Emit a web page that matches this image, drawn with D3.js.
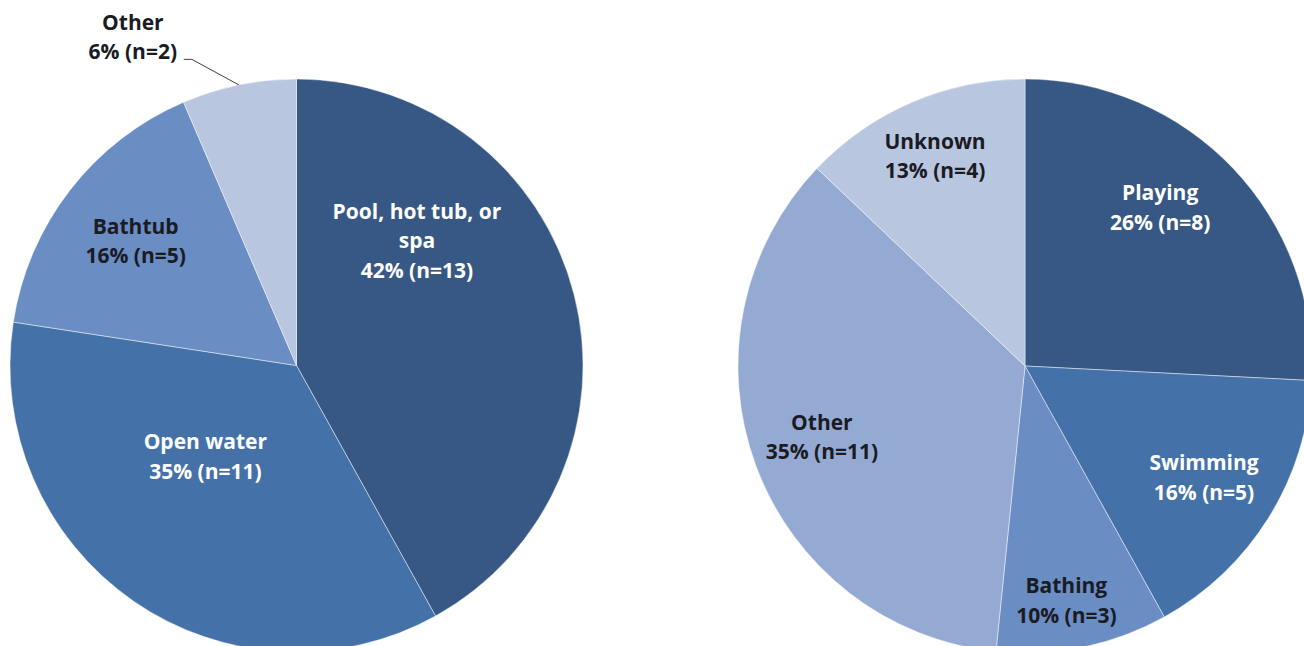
<!DOCTYPE html>
<html>
<head>
<meta charset="utf-8">
<script src="https://cdn.jsdelivr.net/npm/d3@7"></script>
<style>
  html, body { margin: 0; padding: 0; background: #ffffff; }
  svg { display: block; }
  text { font-family: "Open Sans", Lato, sans-serif; font-weight: 700; }
</style>
</head>
<body>
<svg id="chart" width="1304" height="646"></svg>
<script>
// Drowning location (left pie)
const locationCategories = ["Pool, hot tub, or spa", "Open water", "Bathtub", "Other"];
const locationCounts = [13, 11, 5, 2];
const locationPercents = [42, 35, 16, 6];

// Activity at time of drowning (right pie)
const activityCategories = ["Playing", "Swimming", "Bathing", "Other", "Unknown"];
const activityCounts = [8, 5, 3, 11, 4];
const activityPercents = [26, 16, 10, 35, 13];

const W = 1304, H = 646;
const svg = d3.select("#chart");

// Label line breaks, colours and placement for each pie
const pies = [
  {
    categories: locationCategories, counts: locationCounts, percents: locationPercents,
    cx: 296.5, cy: 365.5, r: 286.5,
    colors: ["#375884", "#4472a8", "#6a8dc3", "#b9c6e0"],
    textColors: ["#ffffff", "#ffffff", "#1b1b24", "#1b1b24"],
    lines: [["Pool, hot tub, or", "spa"], ["Open water"], ["Bathtub"], ["Other"]],
    // label anchor: fraction of radius, optional fixed angle (degrees from 12 o'clock)
    place: [{ f: 0.605, a: 44 }, { f: 0.45, a: 225 }, { f: 0.71 }, { outside: true }]
  },
  {
    categories: activityCategories, counts: activityCounts, percents: activityPercents,
    cx: 1025, cy: 366, r: 287,
    colors: ["#375884", "#4472a8", "#6a8dc3", "#94aad2", "#b9c6e0"],
    textColors: ["#ffffff", "#ffffff", "#1b1b24", "#1b1b24", "#1b1b24"],
    lines: [["Playing"], ["Swimming"], ["Bathing"], ["Other"], ["Unknown"]],
    place: [{ f: 0.725, a: 40.5 }, { f: 0.735 }, { f: 0.83, a: 170 }, { f: 0.75, a: 250.7 }, { f: 0.795 }]
  }
];

const lineH = 29.5;

pies.forEach(p => {
  const g = svg.append("g").attr("transform", `translate(${p.cx},${p.cy})`);
  const pie = d3.pie().sort(null).value(d => d)(p.counts);
  const arc = d3.arc().innerRadius(0).outerRadius(p.r);

  g.selectAll("path.slice")
    .data(pie)
    .join("path")
    .attr("class", "slice")
    .attr("d", arc)
    .attr("fill", (d, i) => p.colors[i])
    .attr("stroke", "rgba(255,255,255,0.45)")
    .attr("stroke-width", 1);

  pie.forEach((d, i) => {
    const pl = p.place[i];
    const lines = p.lines[i].concat([`${p.percents[i]}% (n=${p.counts[i]})`]);
    const mid = (d.startAngle + d.endAngle) / 2;
    let x, y, color = p.textColors[i];

    if (pl.outside) {
      // leader line from the arc edge to a label above-left
      const ex = Math.sin(mid) * p.r, ey = -Math.cos(mid) * p.r;
      const kx = ex - 47, ky = ey - 25.5;
      g.append("path")
        .attr("d", `M${ex},${ey}L${kx},${ky}L${kx - 8},${ky}`)
        .attr("fill", "none")
        .attr("stroke", "#404040")
        .attr("stroke-width", 1);
      x = kx - 8 - 51;
      y = ky - 22;
      color = "#1b1b24";
    } else {
      const a = pl.a !== undefined ? pl.a * Math.PI / 180 : mid;
      x = Math.sin(a) * p.r * pl.f;
      y = -Math.cos(a) * p.r * pl.f;
    }

    const t = g.append("text")
      .attr("text-anchor", "middle")
      .attr("fill", color)
      .attr("font-size", 21);
    const n = lines.length;
    lines.forEach((ln, j) => {
      t.append("tspan")
        .attr("x", x)
        .attr("y", y + (j - (n - 1) / 2) * lineH)
        .attr("dy", "0.35em")
        .text(ln);
    });
  });
});
</script>
</body>
</html>
